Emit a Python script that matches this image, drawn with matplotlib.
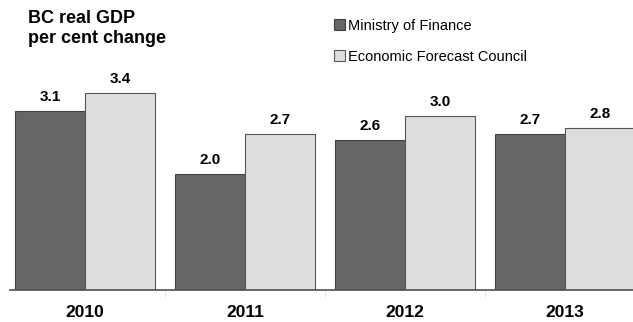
import numpy as np
import matplotlib.pyplot as plt

plt.rcParams['font.family'] = ['Liberation Sans', 'DejaVu Sans']

years = ['2010', '2011', '2012', '2013']
ministry = [3.1, 2.0, 2.6, 2.7]
council = [3.4, 2.7, 3.0, 2.8]
series_names = ['Ministry of Finance', 'Economic Forecast Council']

fig = plt.figure(figsize=(6.33, 3.22), dpi=100)
ax = fig.add_axes([10 / 633, 32 / 322, 1 - 10 / 633, 290 / 322])

x = np.arange(len(years))
w = 0.4375
b1 = ax.bar(x - w / 2, ministry, w, color='#666666', edgecolor='#404040', linewidth=0.8)
b2 = ax.bar(x + w / 2, council, w, color='#dddddd', edgecolor='#555555', linewidth=0.8)

for bars, vals in ((b1, ministry), (b2, council)):
    for r, v in zip(bars, vals):
        ax.text(r.get_x() + r.get_width() / 2, v + 0.12, f'{v:.1f}',
                ha='center', va='bottom', fontsize=11, fontweight='bold')

ax.set_xlim(-0.47, 3.425)
ax.set_ylim(0, 5.01)

for s in ['top', 'right', 'left']:
    ax.spines[s].set_visible(False)
ax.spines['bottom'].set_color('#505050')
ax.spines['bottom'].set_linewidth(1.2)
ax.set_yticks([])

# category labels, with small separator ticks between groups
ax.set_xticks(x)
ax.set_xticklabels(years, fontsize=12.5, fontweight='bold')
ax.tick_params(axis='x', which='major', length=0, pad=11)
ax.set_xticks(x[:-1] + 0.5, minor=True)
ax.tick_params(axis='x', which='minor', length=5, color='#dddddd')

fig.text(28 / 633, 1 - 10 / 322, 'BC real GDP\nper cent change', ha='left', va='top',
         fontsize=13, fontweight='bold', linespacing=1.25)

fig.legend([b1, b2], series_names, loc='upper left',
           bbox_to_anchor=(328 / 633, 1 - 13 / 322), frameon=False,
           fontsize=10.5, handlelength=0.75, handleheight=0.75,
           handletextpad=0.2, labelspacing=1.15, borderaxespad=0)

fig.savefig('out.png', dpi=100)
